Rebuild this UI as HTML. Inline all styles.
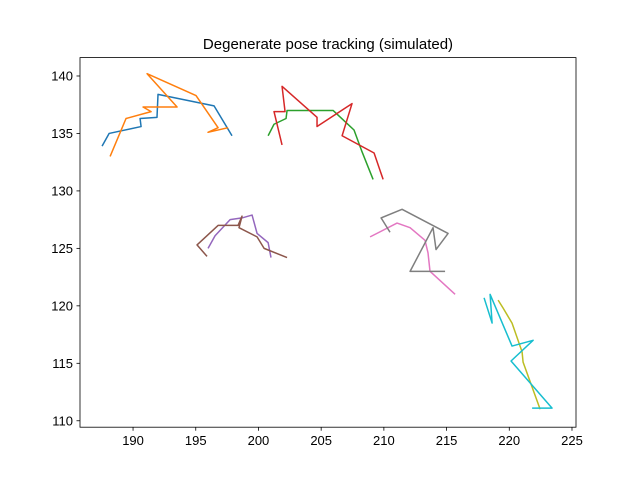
<!DOCTYPE html>
<html><head><meta charset="utf-8"><style>
body{margin:0;background:#fff}
svg text{font-family:"Liberation Sans","DejaVu Sans",sans-serif;fill:#000}
</style></head><body>
<svg id="chart" width="640" height="480" xmlns="http://www.w3.org/2000/svg">
<rect width="640" height="480" fill="#fff"/>
<text x="328" y="49" font-size="15" text-anchor="middle">Degenerate pose tracking (simulated)</text>
<g id="marks"></g>
<g id="axes"></g>
</svg>
<script>
const xTicks=[190,195,200,205,210,215,220,225];
const yTicks=[110,115,120,125,130,135,140];
const colors=["#1f77b4","#ff7f0e","#2ca02c","#d62728","#9467bd","#8c564b","#e377c2","#7f7f7f","#bcbd22","#17becf"];
const s0x=[187.53,188.09,190.64,190.56,191.91,191.99,196.46,197.89];
const s0y=[133.9,135.0,135.6,136.3,136.4,138.4,137.4,134.8];
const s1x=[188.17,189.44,191.44,190.80,193.51,191.12,195.02,196.78,195.98,197.58];
const s1y=[133.0,136.3,136.9,137.3,137.3,140.2,138.3,135.5,135.1,135.5];
const s2x=[200.77,201.24,202.20,202.28,205.95,207.62,208.26,209.14];
const s2y=[134.8,135.8,136.3,137.0,137.0,135.3,133.4,131.0];
const s3x=[201.88,201.24,202.12,201.88,204.67,204.67,207.46,206.67,209.22,209.94];
const s3y=[134.0,136.9,136.9,139.1,136.4,135.6,137.6,134.8,133.3,131.0];
const s4x=[195.98,196.54,197.74,198.69,199.49,199.89,200.77,201.0];
const s4y=[125.0,126.1,127.5,127.65,127.9,126.3,125.5,124.2];
const s5x=[195.90,195.10,196.78,198.37,198.69,198.45,199.89,200.45,202.28];
const s5y=[124.3,125.3,127.0,127.0,127.8,126.8,126.0,125.0,124.2];
const s6x=[208.90,211.05,212.09,213.28,213.52,213.68,215.68];
const s6y=[126.0,127.2,126.8,125.7,124.6,123.0,121.0];
const s7x=[210.49,209.78,211.45,215.12,214.16,213.92,212.09,214.88];
const s7y=[126.4,127.65,128.4,126.3,124.9,126.8,123.0,123.0];
const s8x=[219.11,219.51,220.22,221.02,221.10,222.46];
const s8y=[120.5,119.8,118.5,116.0,115.1,111.0];
const s9x=[217.99,218.63,218.47,220.22,221.90,220.14,223.41,221.82];
const s9y=[120.7,118.5,121.0,116.5,117.0,115.2,111.1,111.1];
const seriesX=[s0x,s1x,s2x,s3x,s4x,s5x,s6x,s7x,s8x,s9x];
const seriesY=[s0y,s1y,s2y,s3y,s4y,s5y,s6y,s7y,s8y,s9y];

const L=80,R=576,T=57.6,B=427.2;
const xMin=185.77,xMax=225.32,yMin=109.44,yMax=141.6;
const X=v=>L+(v-xMin)/(xMax-xMin)*(R-L);
const Y=v=>B-(v-yMin)/(yMax-yMin)*(B-T);
const NS="http://www.w3.org/2000/svg";
const marks=document.getElementById('marks');
const axes=document.getElementById('axes');
seriesX.forEach((xs,i)=>{
  const p=document.createElementNS(NS,'polyline');
  p.setAttribute('points',xs.map((x,j)=>X(x).toFixed(2)+','+Y(seriesY[i][j]).toFixed(2)).join(' '));
  p.setAttribute('fill','none');p.setAttribute('stroke',colors[i]);p.setAttribute('stroke-width','1.5');
  p.setAttribute('stroke-linejoin','round');
  
  
  marks.appendChild(p);
});
const frame=document.createElementNS(NS,'rect');
frame.setAttribute('x',L);frame.setAttribute('y',T);frame.setAttribute('width',R-L);frame.setAttribute('height',B-T);
frame.setAttribute('fill','none');frame.setAttribute('stroke','#000');frame.setAttribute('stroke-width','0.8');


axes.appendChild(frame);
xTicks.forEach(t=>{
  const x=X(t);
  const l=document.createElementNS(NS,'line');
  l.setAttribute('x1',x);l.setAttribute('x2',x);l.setAttribute('y1',B);l.setAttribute('y2',B+3.5);
  l.setAttribute('stroke','#000');l.setAttribute('stroke-width','0.8');
  
  
  axes.appendChild(l);
  const tx=document.createElementNS(NS,'text');
  tx.setAttribute('x',x);tx.setAttribute('y',B+18);tx.setAttribute('font-size','13');tx.setAttribute('text-anchor','middle');
  tx.textContent=t;
  
  
  axes.appendChild(tx);
});
yTicks.forEach(t=>{
  const y=Y(t);
  const l=document.createElementNS(NS,'line');
  l.setAttribute('x1',L-3.5);l.setAttribute('x2',L);l.setAttribute('y1',y);l.setAttribute('y2',y);
  l.setAttribute('stroke','#000');l.setAttribute('stroke-width','0.8');
  
  
  axes.appendChild(l);
  const tx=document.createElementNS(NS,'text');
  tx.setAttribute('x',L-7);tx.setAttribute('y',y+4.5);tx.setAttribute('font-size','13');tx.setAttribute('text-anchor','end');
  tx.textContent=t;
  
  
  axes.appendChild(tx);
});
</script>
</body></html>
